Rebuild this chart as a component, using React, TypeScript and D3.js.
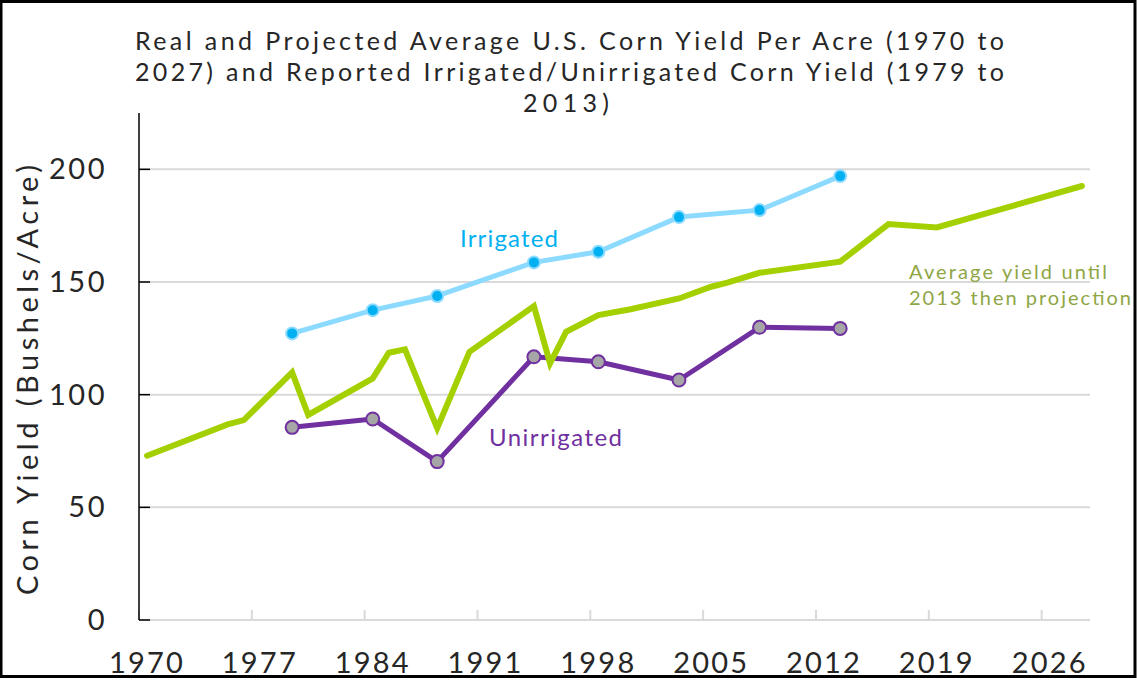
import React from 'react'
import * as d3 from 'd3'

const W = 1137
const H = 681

const TITLE_LINES = [
  'Real and Projected Average U.S. Corn Yield Per Acre (1970 to',
  '2027) and Reported Irrigated/Unirrigated Corn Yield (1979 to',
  '2013)',
]

// average yield (real until 2013, projection after)
const AVG_YEARS = [1970, 1975, 1976, 1979, 1980, 1984, 1985, 1986, 1988, 1990, 1994, 1995, 1996, 1998, 2000, 2003, 2005, 2006, 2008, 2013, 2016, 2019, 2028]
const AVG_YIELD = [72.9, 86.8, 88.7, 109.9, 91.0, 107.2, 118.6, 120.1, 85.1, 119.0, 139.3, 113.9, 127.9, 135.3, 137.9, 142.7, 147.9, 149.7, 154.1, 159.0, 175.7, 174.2, 192.6]

const SURVEY_YEARS = [1979, 1984, 1988, 1994, 1998, 2003, 2008, 2013]
const IRRIGATED = [127.2, 137.5, 143.8, 158.7, 163.4, 178.8, 181.9, 197.0]
const UNIRRIGATED = [85.5, 89.2, 70.3, 116.8, 114.6, 106.5, 129.9, 129.4]

const X_LABELS = [1970, 1977, 1984, 1991, 1998, 2005, 2012, 2019, 2026]
const Y_TICKS = [0, 50, 100, 150, 200]

const GEO = 'Lato, "DejaVu Sans", sans-serif'

export default function App() {
  const x = d3.scaleLinear().domain([1969.5, 2028.5]).range([139, 1090])
  const y = d3.scaleLinear().domain([0, 225]).range([620, 113])

  const line = d3.line<[number, number]>().x(d => x(d[0])).y(d => y(d[1]))
  const avg = AVG_YEARS.map((yr, i) => [yr, AVG_YIELD[i]] as [number, number])
  const irr = SURVEY_YEARS.map((yr, i) => [yr, IRRIGATED[i]] as [number, number])
  const unirr = SURVEY_YEARS.map((yr, i) => [yr, UNIRRIGATED[i]] as [number, number])

  const [x0, x1] = x.range()

  return (
    <div style={{ position: 'fixed', left: 0, top: 0 }}>
      <svg width={W} height={H} style={{ display: 'block', background: '#fff' }}>
        <rect x={1} y={1.5} width={W - 3} height={675} fill="none" stroke="#000" strokeWidth={3} />

        {TITLE_LINES.map((t, i) => (
          <text key={i} x={i < 2 ? 135 : 523} y={50 + i * 31} fontFamily={GEO} fontSize={25} fill="#262626"
            textLength={i < 2 ? 869 : 86} lengthAdjust="spacing">{t}</text>
        ))}

        {/* gridlines */}
        {Y_TICKS.map(v => (
          <line key={v} x1={x0} x2={x1} y1={y(v)} y2={y(v)} stroke="#d9d9d9" strokeWidth={2} />
        ))}
        {/* x ticks at category boundaries */}
        {X_LABELS.map(yr => (
          <line key={yr} x1={x(yr - 0.5)} x2={x(yr - 0.5)} y1={610} y2={620} stroke="#d9d9d9" strokeWidth={2} />
        ))}
        {/* y axis */}
        <line x1={x0} x2={x0} y1={113} y2={620} stroke="#000" strokeWidth={1.5} />
        {Y_TICKS.map(v => (
          <line key={v} x1={x0} x2={x0 + 11} y1={y(v)} y2={y(v)} stroke="#000" strokeWidth={1.5} />
        ))}

        {Y_TICKS.map(v => (
          <text key={v} x={107} y={y(v) + 10} textAnchor="end" fontFamily={GEO} fontSize={29}
            letterSpacing={2.5} fill="#262626">{v}</text>
        ))}
        {X_LABELS.map(yr => (
          <text key={yr} x={x(yr)} y={673} textAnchor="middle" fontFamily={GEO} fontSize={29}
            letterSpacing={2.2} fill="#262626">{yr}</text>
        ))}

        <text transform="translate(38,380) rotate(-90)" textAnchor="middle" fontFamily={GEO} fontSize={29}
          fill="#262626" textLength={430} lengthAdjust="spacing">Corn Yield (Bushels/Acre)</text>

        {/* irrigated */}
        <path d={line(irr) ?? ''} fill="none" stroke="#8cdaff" strokeWidth={5} strokeLinejoin="round" />
        {irr.map((d, i) => (
          <circle key={i} cx={x(d[0])} cy={y(d[1])} r={6} fill="#00b0f0" stroke="#8cdaff" strokeWidth={2} />
        ))}

        {/* unirrigated */}
        <path d={line(unirr) ?? ''} fill="none" stroke="#7030a0" strokeWidth={5} strokeLinejoin="round" />
        {unirr.map((d, i) => (
          <circle key={i} cx={x(d[0])} cy={y(d[1])} r={6.5} fill="#a6a6a6" stroke="#7030a0" strokeWidth={2} />
        ))}

        {/* average */}
        <path d={line(avg) ?? ''} fill="none" stroke="#a5d000" strokeWidth={6} strokeLinejoin="miter" strokeLinecap="round" />

        <text x={460} y={247} fontFamily="Lato, sans-serif" fontSize={24} fill="#00b0f0"
          textLength={98} lengthAdjust="spacing">Irrigated</text>
        <text x={489} y={446} fontFamily="Lato, sans-serif" fontSize={24} fill="#7030a0"
          textLength={133} lengthAdjust="spacing">Unirrigated</text>

        <text x={909} y={279} fontFamily={GEO} fontSize={20} fill="#8fa645"
          textLength={198} lengthAdjust="spacing">Average yield until</text>
        <text x={909} y={305} fontFamily={GEO} fontSize={20} fill="#8fa645"
          textLength={222} lengthAdjust="spacing">2013 then projection</text>
      </svg>
    </div>
  )
}
